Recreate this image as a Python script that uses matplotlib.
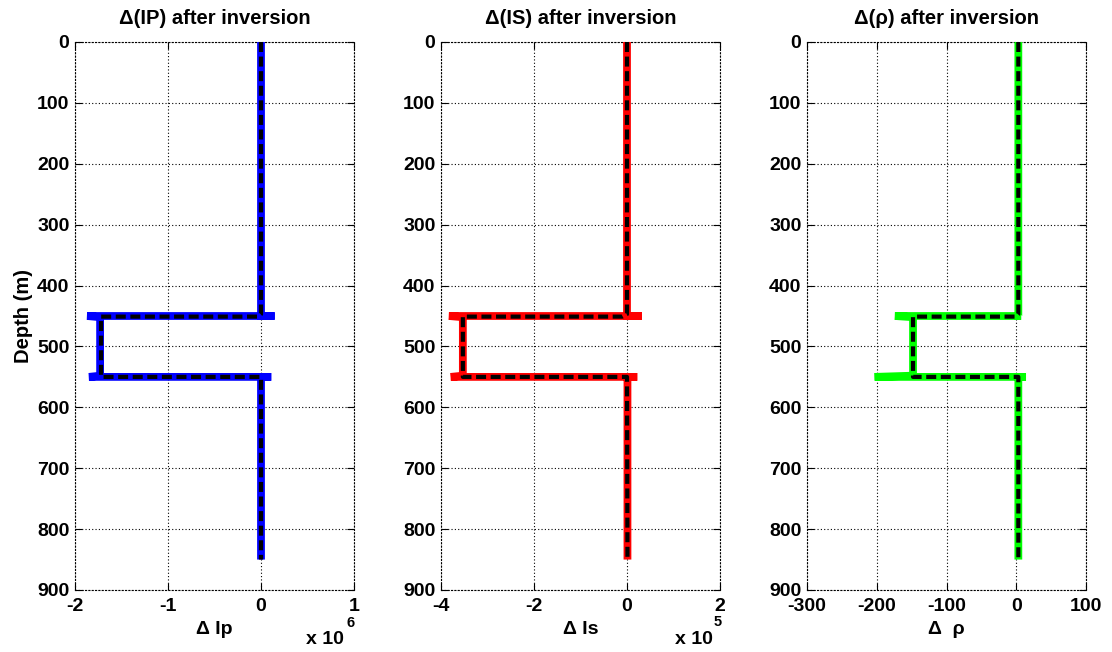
import matplotlib
matplotlib.use("Agg")
import matplotlib.pyplot as plt
from matplotlib.ticker import FuncFormatter

plt.rcParams['font.family'] = ['Liberation Sans', 'DejaVu Sans']
plt.rcParams['font.weight'] = 'bold'

# Depth profiles (m) of the model difference and its inverted estimate
depth_true = [0, 450, 450, 450, 452, 548, 550, 550, 550, 850]
depth_inv = [0, 447, 451, 451, 550, 550, 850]

ip_true = [0.0, 0.0, 0.145e6, -1.87e6, -1.73e6, -1.73e6, -1.85e6, 0.11e6, 0.0, 0.0]
ip_inv = [0.0, 0.0, -0.03e6, -1.72e6, -1.72e6, 0.0, 0.0]

is_true = [0.0, 0.0, 0.32e5, -3.83e5, -3.53e5, -3.53e5, -3.79e5, 0.22e5, 0.01e5, 0.01e5]
is_inv = [0.0, 0.0, -0.1e5, -3.53e5, -3.53e5, 0.0, 0.01e5]

rho_true = [3.0, 3.0, 7.0, -174.0, -148.0, -148.0, -203.0, 14.0, 3.0, 3.0]
rho_inv = [3.0, 3.0, 0.0, -148.0, -148.0, 3.0, 3.0]

titles = ['\u0394(IP) after inversion', '\u0394(IS) after inversion', '\u0394(\u03c1) after inversion']
xlabels = ['\u0394 Ip', '\u0394 Is', '\u0394  \u03c1']
colors = ['#0000ff', '#ff0000', '#00ff00']
xlims = [(-2e6, 1e6), (-4e5, 2e5), (-300, 100)]
xticks = [[-2e6, -1e6, 0, 1e6], [-4e5, -2e5, 0, 2e5], [-300, -200, -100, 0, 100]]
scales = [1e6, 1e5, 1]
exponents = ['6', '5', None]
depth_ticks = list(range(0, 901, 100))

fig = plt.figure(figsize=(11.12, 6.52), dpi=100)
lefts = [75 / 1112, 441 / 1112, 807 / 1112]
width = 279 / 1112
bottom = 62 / 652
height = 548 / 652

trues = [ip_true, is_true, rho_true]
invs = [ip_inv, is_inv, rho_inv]
exp_pos = [(0.962, 0.986, -0.048), (0.975, 0.991, -0.045), None]
dotted = (0, (1, 2))

for i in range(3):
    ax = fig.add_axes([lefts[i], bottom, width, height])
    ax.plot(trues[i], depth_true, color=colors[i], lw=5.6, solid_joinstyle='miter',
            solid_capstyle='butt', zorder=3)
    ax.plot(invs[i], depth_inv, color='black', lw=3.0, linestyle=(0, (2.4, 1.1)),
            dash_capstyle='butt', zorder=4)
    ax.set_xlim(*xlims[i])
    ax.set_ylim(900, 0)
    ax.set_xticks(xticks[i])
    ax.set_yticks(depth_ticks)
    s = scales[i]
    ax.xaxis.set_major_formatter(FuncFormatter(lambda v, p, s=s: f"{v / s:g}"))
    ax.grid(True, color='black', linestyle=dotted, linewidth=0.8)
    ax.tick_params(direction='in', length=5, width=0.8, top=True, right=True,
                   labelsize=14)
    ax.tick_params(axis='x', pad=6)
    ax.tick_params(axis='y', pad=4)
    for lab in ax.get_xticklabels() + ax.get_yticklabels():
        lab.set_fontweight('bold')
    for sp in ax.spines.values():
        sp.set_linewidth(0.8)
        sp.set_linestyle(dotted)
    ax.set_title(titles[i], fontsize=14.5, fontweight='bold', pad=13)
    ax.set_xlabel(xlabels[i], fontsize=14, fontweight='bold', labelpad=4)
    if i == 0:
        ax.set_ylabel('Depth (m)', fontsize=14.5, fontweight='bold', labelpad=3)
    if exponents[i]:
        xr, xs, ys = exp_pos[i]
        ax.text(xr, -0.075, 'x 10', transform=ax.transAxes, ha='right',
                va='top', fontsize=14, fontweight='bold')
        ax.text(xs, ys, exponents[i], transform=ax.transAxes, ha='center',
                va='top', fontsize=10.5, fontweight='bold')

fig.savefig('out.png', dpi=100)
